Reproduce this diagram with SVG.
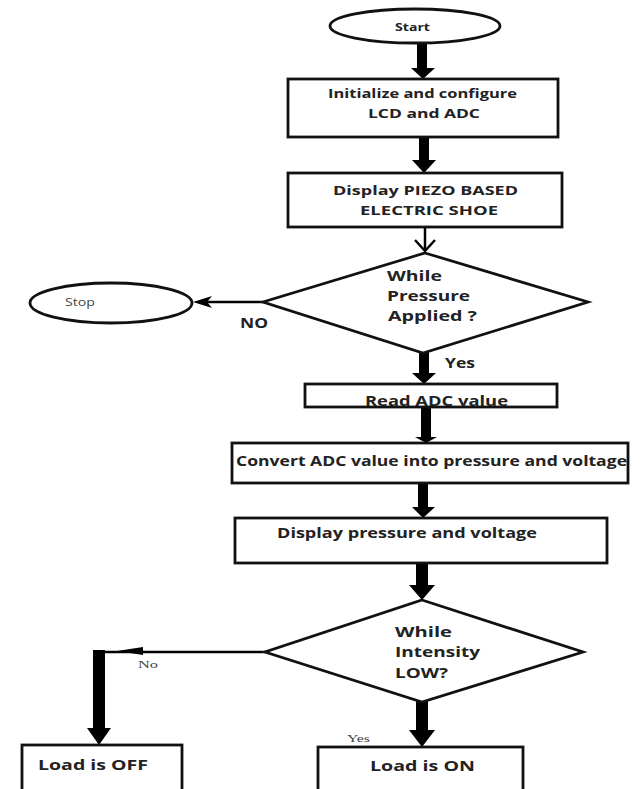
<svg xmlns="http://www.w3.org/2000/svg" width="643" height="789" viewBox="0 0 643 789">
<defs>
<style>
.s{fill:#fff;stroke:#111;stroke-width:2.8}
.t{font-family:"Open Sans","Liberation Sans",sans-serif;font-weight:bold;fill:#222;font-size:15px}
.sm{font-family:"Liberation Serif",serif;fill:#444;font-size:11px}
.sh{fill:#000}
.tn{fill:none;stroke:#000;stroke-width:2.5}
</style>
</defs>
<g id="connectors">
<rect class="sh" x="417" y="43" width="10" height="26"/><polygon class="sh" points="411,68 435,68 423,79"/>
<rect class="sh" x="419" y="137" width="10" height="24"/><polygon class="sh" points="412,160 436,160 424,173"/>
<line class="tn" x1="425" y1="227" x2="425" y2="251"/><polyline class="tn" points="415,240 425,251 435,240"/>
<line class="tn" x1="263" y1="302" x2="205" y2="302" stroke-width="4"/><polygon class="sh" points="193,302 212,296 207,302 212,308"/>
<rect class="sh" x="419" y="352" width="10" height="22"/><polygon class="sh" points="412,373 436,373 424,384"/>
<rect class="sh" x="421" y="407" width="10" height="31"/><polygon class="sh" points="415,437 437,437 426,443"/>
<rect class="sh" x="418" y="483" width="10" height="25"/><polygon class="sh" points="412,507 435,507 423,518"/>
<rect class="sh" x="416" y="563" width="12" height="23"/><polygon class="sh" points="409,585 435,585 422,600"/>
<rect class="sh" x="416" y="701" width="12" height="30"/><polygon class="sh" points="409,730 435,730 422,747"/>
<line class="tn" x1="265" y1="652" x2="97" y2="652" stroke-width="5"/><polygon class="sh" points="117,651 143,647 143,655"/>
<rect class="sh" x="93" y="650" width="12" height="79"/><polygon class="sh" points="87,728 111,728 99,745"/>
<text class="t" x="445" y="368" textLength="30" lengthAdjust="spacingAndGlyphs" style="font-size:14px">Yes</text>
<text class="t" x="240" y="328" textLength="28" lengthAdjust="spacingAndGlyphs" style="font-size:14px">NO</text>
<text class="sm" x="138" y="668" textLength="20" lengthAdjust="spacingAndGlyphs">No</text>
<text class="sm" x="347" y="742" textLength="23" lengthAdjust="spacingAndGlyphs">Yes</text>
</g>
<g id="start"><ellipse class="s" cx="415" cy="26" rx="85" ry="17"/><text class="t" x="395" y="31" textLength="35" lengthAdjust="spacingAndGlyphs" style="font-size:11px">Start</text></g>
<g id="init"><rect class="s" x="288" y="79" width="270" height="58"/><text class="t" x="328" y="98" textLength="189" lengthAdjust="spacingAndGlyphs" style="font-size:13px">Initialize and configure</text><text class="t" x="368" y="118" textLength="112" lengthAdjust="spacingAndGlyphs" style="font-size:13px">LCD and ADC</text></g>
<g id="display1"><rect class="s" x="288" y="173" width="274" height="54"/><text class="t" x="333" y="195" textLength="185" lengthAdjust="spacingAndGlyphs" style="font-size:13px">Display PIEZO BASED</text><text class="t" x="360" y="215" textLength="138" lengthAdjust="spacingAndGlyphs" style="font-size:13px">ELECTRIC SHOE</text></g>
<g id="pressure"><polygon class="s" points="425,253 588,302 423,353 263,302"/><text class="t" x="387" y="281" textLength="55" lengthAdjust="spacingAndGlyphs">While</text><text class="t" x="387" y="301" textLength="83" lengthAdjust="spacingAndGlyphs">Pressure</text><text class="t" x="388" y="321" textLength="89" lengthAdjust="spacingAndGlyphs">Applied ?</text></g>
<g id="stop"><ellipse class="s" cx="111" cy="303" rx="81" ry="20"/><text x="65" y="306" textLength="30" lengthAdjust="spacingAndGlyphs" style="font-family:'Open Sans',sans-serif;font-size:11px;fill:#444">Stop</text></g>
<g id="read"><rect class="s" x="305" y="384" width="252" height="23"/><text class="t" x="365" y="406" textLength="143" lengthAdjust="spacingAndGlyphs" style="font-size:14px">Read ADC value</text></g>
<g id="convert"><rect class="s" x="232" y="443" width="396" height="40"/><text class="t" x="236" y="466" textLength="391" lengthAdjust="spacingAndGlyphs">Convert ADC value into pressure and voltage</text></g>
<g id="display2"><rect class="s" x="235" y="518" width="372" height="45"/><text class="t" x="277" y="538" textLength="260" lengthAdjust="spacingAndGlyphs">Display pressure and voltage</text></g>
<g id="intensity"><polygon class="s" points="422,600 583,652 422,702 265,652"/><text class="t" x="395" y="637" textLength="57" lengthAdjust="spacingAndGlyphs">While</text><text class="t" x="395" y="657" textLength="85" lengthAdjust="spacingAndGlyphs">Intensity</text><text class="t" x="395" y="678" textLength="53" lengthAdjust="spacingAndGlyphs">LOW?</text></g>
<g id="off"><rect class="s" x="22" y="745" width="160" height="48"/><text class="t" x="38" y="770" textLength="110" lengthAdjust="spacingAndGlyphs">Load is OFF</text></g>
<g id="on"><rect class="s" x="318" y="747" width="205" height="46"/><text class="t" x="370" y="771" textLength="105" lengthAdjust="spacingAndGlyphs">Load is ON</text></g>
</svg>
